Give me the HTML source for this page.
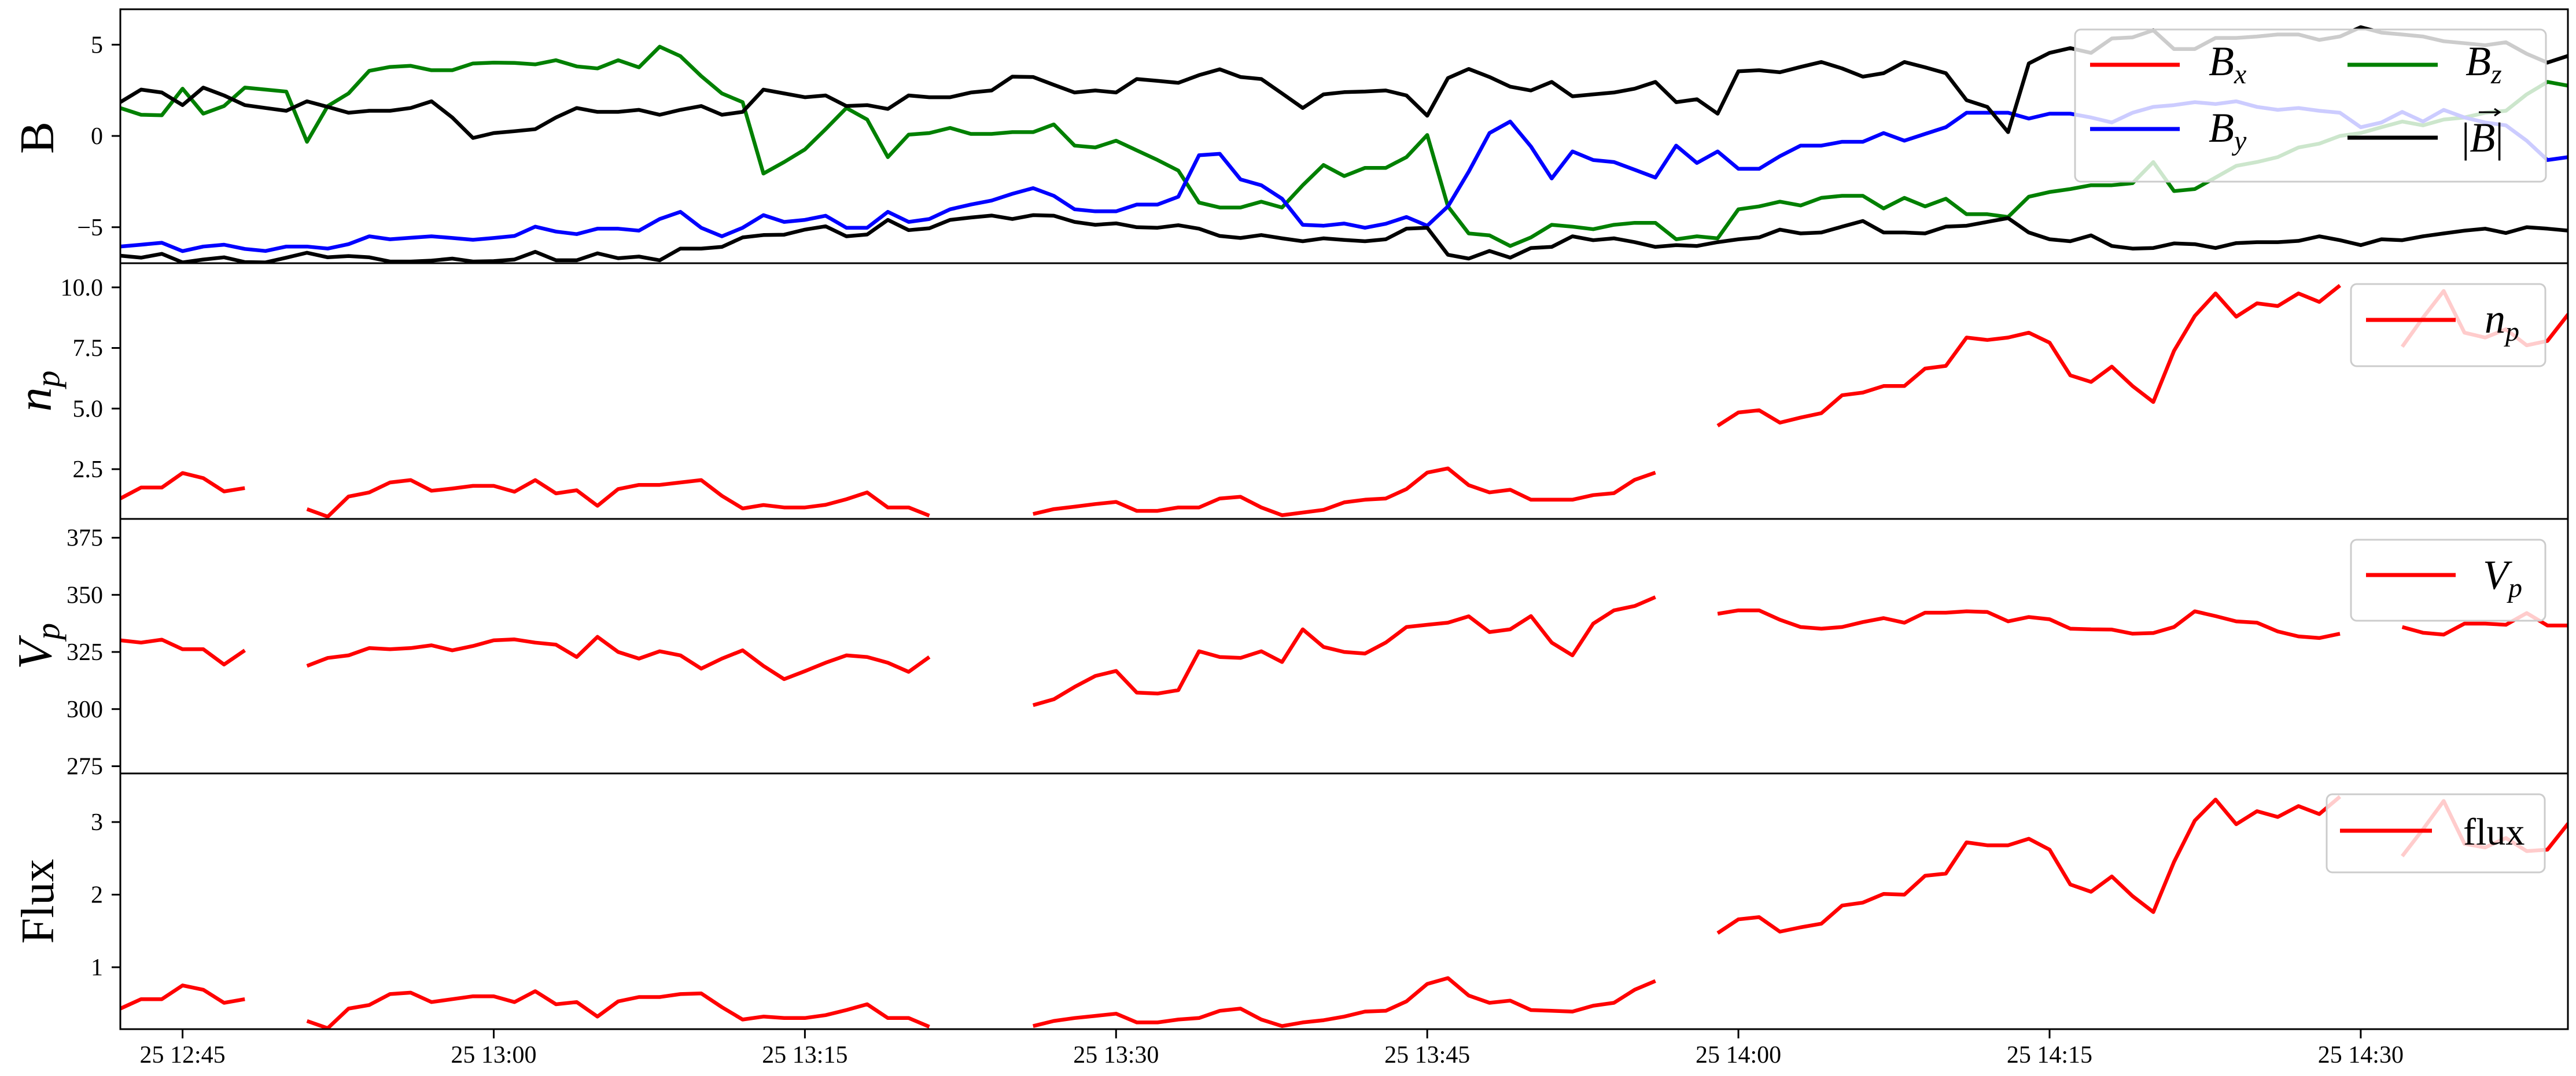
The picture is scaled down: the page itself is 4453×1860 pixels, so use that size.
<!DOCTYPE html>
<html><head><meta charset="utf-8"><style>
html,body{margin:0;padding:0;background:#fff;}
svg{display:block;font-family:"Liberation Serif","DejaVu Serif",serif;}
</style></head><body>
<svg id="chart" width="4453" height="1860" viewBox="0 0 4453 1860" xmlns="http://www.w3.org/2000/svg"></svg>
<script>
// ---- data (index = minutes since 12:42) ----
const tickMinutes = [3, 18, 33, 48, 63, 78, 93, 108];
const tickLabels = ["25 12:45","25 13:00","25 13:15","25 13:30","25 13:45","25 14:00","25 14:15","25 14:30"];
const bx = [-6.56,-6.67,-6.46,-6.93,-6.77,-6.65,-6.91,-6.93,-6.67,-6.40,-6.65,-6.58,-6.65,-6.88,-6.88,-6.83,-6.72,-6.88,-6.86,-6.77,-6.35,-6.81,-6.81,-6.43,-6.70,-6.61,-6.81,-6.17,-6.17,-6.08,-5.56,-5.43,-5.41,-5.13,-4.95,-5.50,-5.40,-4.60,-5.16,-5.06,-4.60,-4.47,-4.36,-4.55,-4.34,-4.37,-4.71,-4.87,-4.79,-5.00,-5.03,-4.89,-5.08,-5.48,-5.59,-5.43,-5.61,-5.77,-5.61,-5.70,-5.77,-5.66,-5.08,-5.03,-6.51,-6.72,-6.30,-6.67,-6.14,-6.08,-5.50,-5.71,-5.61,-5.82,-6.08,-5.98,-6.03,-5.82,-5.66,-5.56,-5.13,-5.34,-5.29,-4.97,-4.66,-5.29,-5.29,-5.34,-4.97,-4.92,-4.71,-4.50,-5.29,-5.66,-5.77,-5.45,-6.03,-6.17,-6.14,-5.89,-5.93,-6.14,-5.87,-5.82,-5.82,-5.75,-5.50,-5.71,-5.98,-5.66,-5.71,-5.50,-5.34,-5.19,-5.08,-5.32,-5.00,-5.08,-5.19];
const by = [-6.06,-5.96,-5.85,-6.31,-6.06,-5.96,-6.19,-6.30,-6.06,-6.06,-6.17,-5.93,-5.50,-5.66,-5.58,-5.50,-5.59,-5.69,-5.59,-5.48,-4.97,-5.24,-5.38,-5.08,-5.08,-5.19,-4.55,-4.16,-5.03,-5.50,-5.03,-4.34,-4.71,-4.60,-4.37,-5.03,-5.03,-4.16,-4.71,-4.55,-4.02,-3.76,-3.54,-3.17,-2.86,-3.28,-4.02,-4.13,-4.13,-3.76,-3.76,-3.33,-1.06,-0.98,-2.38,-2.70,-3.44,-4.87,-4.92,-4.80,-5.03,-4.81,-4.44,-4.92,-3.86,-1.96,0.16,0.79,-0.58,-2.33,-0.85,-1.32,-1.43,-1.85,-2.28,-0.53,-1.48,-0.85,-1.80,-1.80,-1.11,-0.53,-0.53,-0.32,-0.32,0.16,-0.26,0.11,0.48,1.27,1.27,1.27,0.95,1.22,1.22,1.01,0.74,1.27,1.59,1.69,1.85,1.75,1.90,1.59,1.43,1.53,1.38,1.27,0.48,0.74,1.32,0.79,1.43,1.01,0.74,0.58,-0.26,-1.32,-1.16];
const bz = [1.53,1.16,1.13,2.59,1.22,1.64,2.65,2.54,2.43,-0.32,1.64,2.33,3.57,3.78,3.84,3.60,3.60,3.97,4.02,4.00,3.92,4.15,3.81,3.70,4.15,3.76,4.89,4.37,3.28,2.33,1.85,-2.06,-1.43,-0.74,0.37,1.53,0.90,-1.16,0.07,0.16,0.44,0.11,0.11,0.21,0.21,0.63,-0.53,-0.63,-0.26,-0.79,-1.32,-1.90,-3.65,-3.92,-3.92,-3.60,-3.92,-2.70,-1.59,-2.20,-1.75,-1.75,-1.16,0.05,-3.86,-5.34,-5.45,-6.03,-5.56,-4.87,-4.97,-5.11,-4.87,-4.76,-4.76,-5.66,-5.50,-5.61,-4.02,-3.86,-3.60,-3.81,-3.39,-3.28,-3.28,-3.97,-3.39,-3.86,-3.44,-4.29,-4.29,-4.44,-3.33,-3.07,-2.91,-2.70,-2.70,-2.59,-1.43,-3.02,-2.91,-2.28,-1.64,-1.43,-1.16,-0.63,-0.42,0.00,0.16,0.48,0.79,0.58,0.90,1.01,1.27,1.38,2.28,2.96,2.75];
const bmag = [1.85,2.54,2.38,1.69,2.65,2.22,1.69,1.53,1.38,1.90,1.59,1.27,1.38,1.38,1.53,1.90,1.01,-0.11,0.16,0.26,0.37,1.01,1.53,1.32,1.32,1.43,1.16,1.43,1.64,1.16,1.32,2.54,2.33,2.12,2.22,1.64,1.69,1.48,2.22,2.12,2.12,2.38,2.49,3.25,3.23,2.80,2.38,2.49,2.38,3.12,3.02,2.91,3.33,3.65,3.23,3.12,2.33,1.53,2.28,2.40,2.43,2.49,2.22,1.11,3.17,3.67,3.23,2.70,2.49,2.96,2.17,2.28,2.38,2.59,2.96,1.85,2.01,1.22,3.54,3.60,3.49,3.78,4.05,3.70,3.25,3.44,4.05,3.76,3.44,1.96,1.59,0.21,3.97,4.55,4.81,4.55,5.34,5.40,5.79,4.76,4.76,5.37,5.37,5.45,5.56,5.56,5.26,5.45,5.96,5.66,5.56,5.45,5.19,5.08,4.97,5.13,4.50,4.02,4.39];
const np = [1.29,1.74,1.74,2.34,2.13,1.58,1.72,null,null,0.85,0.54,1.37,1.54,1.95,2.05,1.61,1.70,1.81,1.81,1.57,2.05,1.50,1.63,0.99,1.68,1.85,1.85,1.95,2.05,1.40,0.88,1.02,0.92,0.92,1.03,1.26,1.54,0.92,0.92,0.58,null,null,null,null,0.65,0.85,0.95,1.06,1.15,0.78,0.78,0.92,0.92,1.29,1.36,0.92,0.60,0.71,0.82,1.13,1.24,1.29,1.68,2.36,2.53,1.84,1.54,1.65,1.24,1.24,1.24,1.43,1.51,2.06,2.36,null,null,4.29,4.84,4.93,4.42,4.63,4.81,5.55,5.66,5.93,5.93,6.65,6.76,7.93,7.83,7.93,8.13,7.72,6.37,6.10,6.73,5.93,5.27,7.38,8.82,9.75,8.79,9.34,9.23,9.75,9.40,10.08,null,null,7.55,8.75,9.85,8.13,7.93,8.27,7.61,7.79,8.89];
const vp = [330.1,329.1,330.4,326.2,326.2,319.5,325.7,null,null,318.9,322.4,323.5,326.7,326.2,326.7,327.9,325.7,327.6,330.1,330.5,329.1,328.2,322.8,331.6,325.0,322.1,325.3,323.5,317.7,322.1,325.7,318.9,313.1,316.6,320.3,323.5,322.8,320.3,316.3,322.8,null,null,null,null,301.7,304.3,309.7,314.5,316.7,307.2,306.8,308.3,325.3,322.8,322.4,325.3,320.6,334.9,327.2,325.0,324.3,329.1,335.9,336.9,337.8,340.6,333.7,334.9,340.7,329.1,323.5,337.4,343.2,345.1,349.0,null,null,341.7,343.2,343.2,339.1,335.9,335.2,335.9,338.1,339.8,337.8,342.2,342.2,342.8,342.5,338.4,340.3,339.3,335.2,334.9,334.8,333.0,333.3,335.9,342.8,340.7,338.4,337.8,334.0,331.8,331.1,333.0,null,null,335.9,333.4,332.6,337.4,337.4,336.9,342.0,336.6,336.6];
const flux = [0.43,0.56,0.56,0.75,0.69,0.51,0.56,null,null,0.26,0.16,0.43,0.48,0.63,0.65,0.52,0.56,0.60,0.60,0.52,0.67,0.49,0.52,0.32,0.53,0.59,0.59,0.63,0.64,0.45,0.28,0.32,0.30,0.30,0.34,0.41,0.49,0.30,0.30,0.18,null,null,null,null,0.19,0.26,0.30,0.33,0.36,0.24,0.24,0.28,0.30,0.40,0.43,0.28,0.19,0.24,0.27,0.32,0.39,0.40,0.53,0.77,0.85,0.61,0.51,0.54,0.41,0.40,0.39,0.47,0.51,0.69,0.81,null,null,1.47,1.66,1.69,1.49,1.55,1.60,1.85,1.89,2.01,2.00,2.26,2.29,2.72,2.68,2.68,2.77,2.62,2.14,2.04,2.25,1.98,1.76,2.45,3.02,3.31,2.97,3.15,3.07,3.22,3.11,3.35,null,null,2.53,2.90,3.29,2.70,2.65,2.78,2.60,2.62,2.98];
const bTicks = [5, 0, -5];
const npTicks = [2.5, 5.0, 7.5, 10.0];
const vpTicks = [275, 300, 325, 350, 375];
const fluxTicks = [1, 2, 3];

const NS = "http://www.w3.org/2000/svg";
const svg = document.getElementById('chart');
const L = 208, R = 4439;
const xOf = m => L + m * 35.86;
function mk(tag, attrs, parent){ const e=document.createElementNS(NS,tag); for(const k in attrs) e.setAttribute(k,attrs[k]); (parent||svg).appendChild(e); return e; }

const panels = [
  {name:'b', top:16, bot:455, y:v=>235 - v*31.55, ticks:bTicks, fmt:v=> v<0 ? '\u2212'+Math.abs(v) : String(v)},
  {name:'np', top:455, bot:897, y:v=>811 - (v-2.5)*41.9, ticks:npTicks, fmt:v=>v.toFixed(1)},
  {name:'vp', top:897, bot:1337, y:v=>1127 - (v-325)*3.95, ticks:vpTicks, fmt:v=>String(v)},
  {name:'flux', top:1337, bot:1779, y:v=>1672 - (v-1)*125.5, ticks:fluxTicks, fmt:v=>String(v)}
];
const defs = mk('defs',{});
panels.forEach(p=>{ const c=mk('clipPath',{id:'clip-'+p.name},defs); mk('rect',{x:L,y:p.top,width:R-L,height:p.bot-p.top},c); });

function series(arr, p, color, name){
  let d='', pen=false;
  arr.forEach((v,i)=>{ if(v===null||v===undefined){pen=false;return;} d += (pen?'L':'M') + xOf(i).toFixed(1)+','+p.y(v).toFixed(1); pen=true; });
  const path = mk('path',{d:d,fill:'none',stroke:color,'stroke-width':6.5,'stroke-linejoin':'round','clip-path':'url(#clip-'+p.name+')'});
  
  
}
series(bz, panels[0], '#008000', 'bz-line');
series(by, panels[0], '#0000ff', 'by-line');
series(bmag, panels[0], '#000000', 'bmag-line');
series(bx, panels[0], '#000000', 'bx-line');
series(np, panels[1], '#ff0000', 'np-line');
series(vp, panels[2], '#ff0000', 'vp-line');
series(flux, panels[3], '#ff0000', 'flux-line');

// y ticks and frames
panels.forEach(p=>{
  p.ticks.forEach(v=>{
    const y=p.y(v);
    const t=mk('line',{x1:L-15,x2:L,y1:y,y2:y,stroke:'#000','stroke-width':3});
    
    
    const lab=mk('text',{x:L-30,y:y+14,'text-anchor':'end','font-size':42});
    lab.textContent=p.fmt(v);
    
    
  });
  const fr=mk('rect',{x:L,y:p.top,width:R-L,height:p.bot-p.top,fill:'none',stroke:'#000','stroke-width':3});
  
  
});
// x ticks
tickMinutes.forEach((m,i)=>{
  const x=xOf(m);
  const t=mk('line',{x1:x,x2:x,y1:1779,y2:1795,stroke:'#000','stroke-width':3});
  
  
  const lab=mk('text',{x:x,y:1837,'text-anchor':'middle','font-size':42});
  lab.textContent=tickLabels[i];
  
  
});
</script>
<svg style="position:absolute;left:0;top:0" width="4453" height="1860" xmlns="http://www.w3.org/2000/svg" font-family="Liberation Serif, DejaVu Serif, serif">
  <!-- y-axis titles -->
  <text transform="translate(92,238) rotate(-90)" text-anchor="middle" font-size="84">B</text>
  <text transform="translate(88,676) rotate(-90)" text-anchor="middle" font-size="84" font-style="italic">n<tspan font-size="58" dy="14">p</tspan></text>
  <text transform="translate(88,1117) rotate(-90)" text-anchor="middle" font-size="84" font-style="italic">V<tspan font-size="58" dy="14">p</tspan></text>
  <text transform="translate(92,1558) rotate(-90)" text-anchor="middle" font-size="80">Flux</text>

  <!-- B legend -->
  <g>
    <rect x="3587" y="51" width="814" height="263" rx="10" fill="#fff" fill-opacity="0.8" stroke="#cccccc" stroke-width="3"/>
    <line x1="3613" x2="3768" y1="112" y2="112" stroke="#ff0000" stroke-width="7"/>
    <text x="3818" y="130" font-size="72" font-style="italic">B<tspan font-size="48" dy="14">x</tspan></text>
    <line x1="4058" x2="4214" y1="112" y2="112" stroke="#008000" stroke-width="7"/>
    <text x="4262" y="130" font-size="72" font-style="italic">B<tspan font-size="48" dy="14">z</tspan></text>
    <line x1="3613" x2="3768" y1="223" y2="223" stroke="#0000ff" stroke-width="7"/>
    <text x="3818" y="245" font-size="72" font-style="italic">B<tspan font-size="48" dy="14">y</tspan></text>
    <line x1="4058" x2="4214" y1="238" y2="238" stroke="#000" stroke-width="7"/>
    <text x="4255" y="262" font-size="72">|<tspan font-style="italic">B</tspan>|</text>
    <path d="M4285 194 L4320 194 M4312 188 L4321 194 L4312 200" stroke="#000" stroke-width="3" fill="none"/>
  </g>
  <!-- np legend -->
  <g>
    <rect x="4064" y="491" width="336" height="142" rx="10" fill="#fff" fill-opacity="0.8" stroke="#cccccc" stroke-width="3"/>
    <line x1="4090" x2="4245" y1="553" y2="553" stroke="#ff0000" stroke-width="7"/>
    <text x="4295" y="575" font-size="72" font-style="italic">n<tspan font-size="48" dy="14">p</tspan></text>
  </g>
  <!-- vp legend -->
  <g>
    <rect x="4064" y="933" width="336" height="140" rx="10" fill="#fff" fill-opacity="0.8" stroke="#cccccc" stroke-width="3"/>
    <line x1="4090" x2="4245" y1="994" y2="994" stroke="#ff0000" stroke-width="7"/>
    <text x="4292" y="1018" font-size="72" font-style="italic">V<tspan font-size="48" dy="14">p</tspan></text>
  </g>
  <!-- flux legend -->
  <g>
    <rect x="4022" y="1373" width="377" height="135" rx="10" fill="#fff" fill-opacity="0.8" stroke="#cccccc" stroke-width="3"/>
    <line x1="4045" x2="4204" y1="1436" y2="1436" stroke="#ff0000" stroke-width="7"/>
    <text x="4258" y="1460" font-size="66">flux</text>
  </g>
</svg>
</body></html>
